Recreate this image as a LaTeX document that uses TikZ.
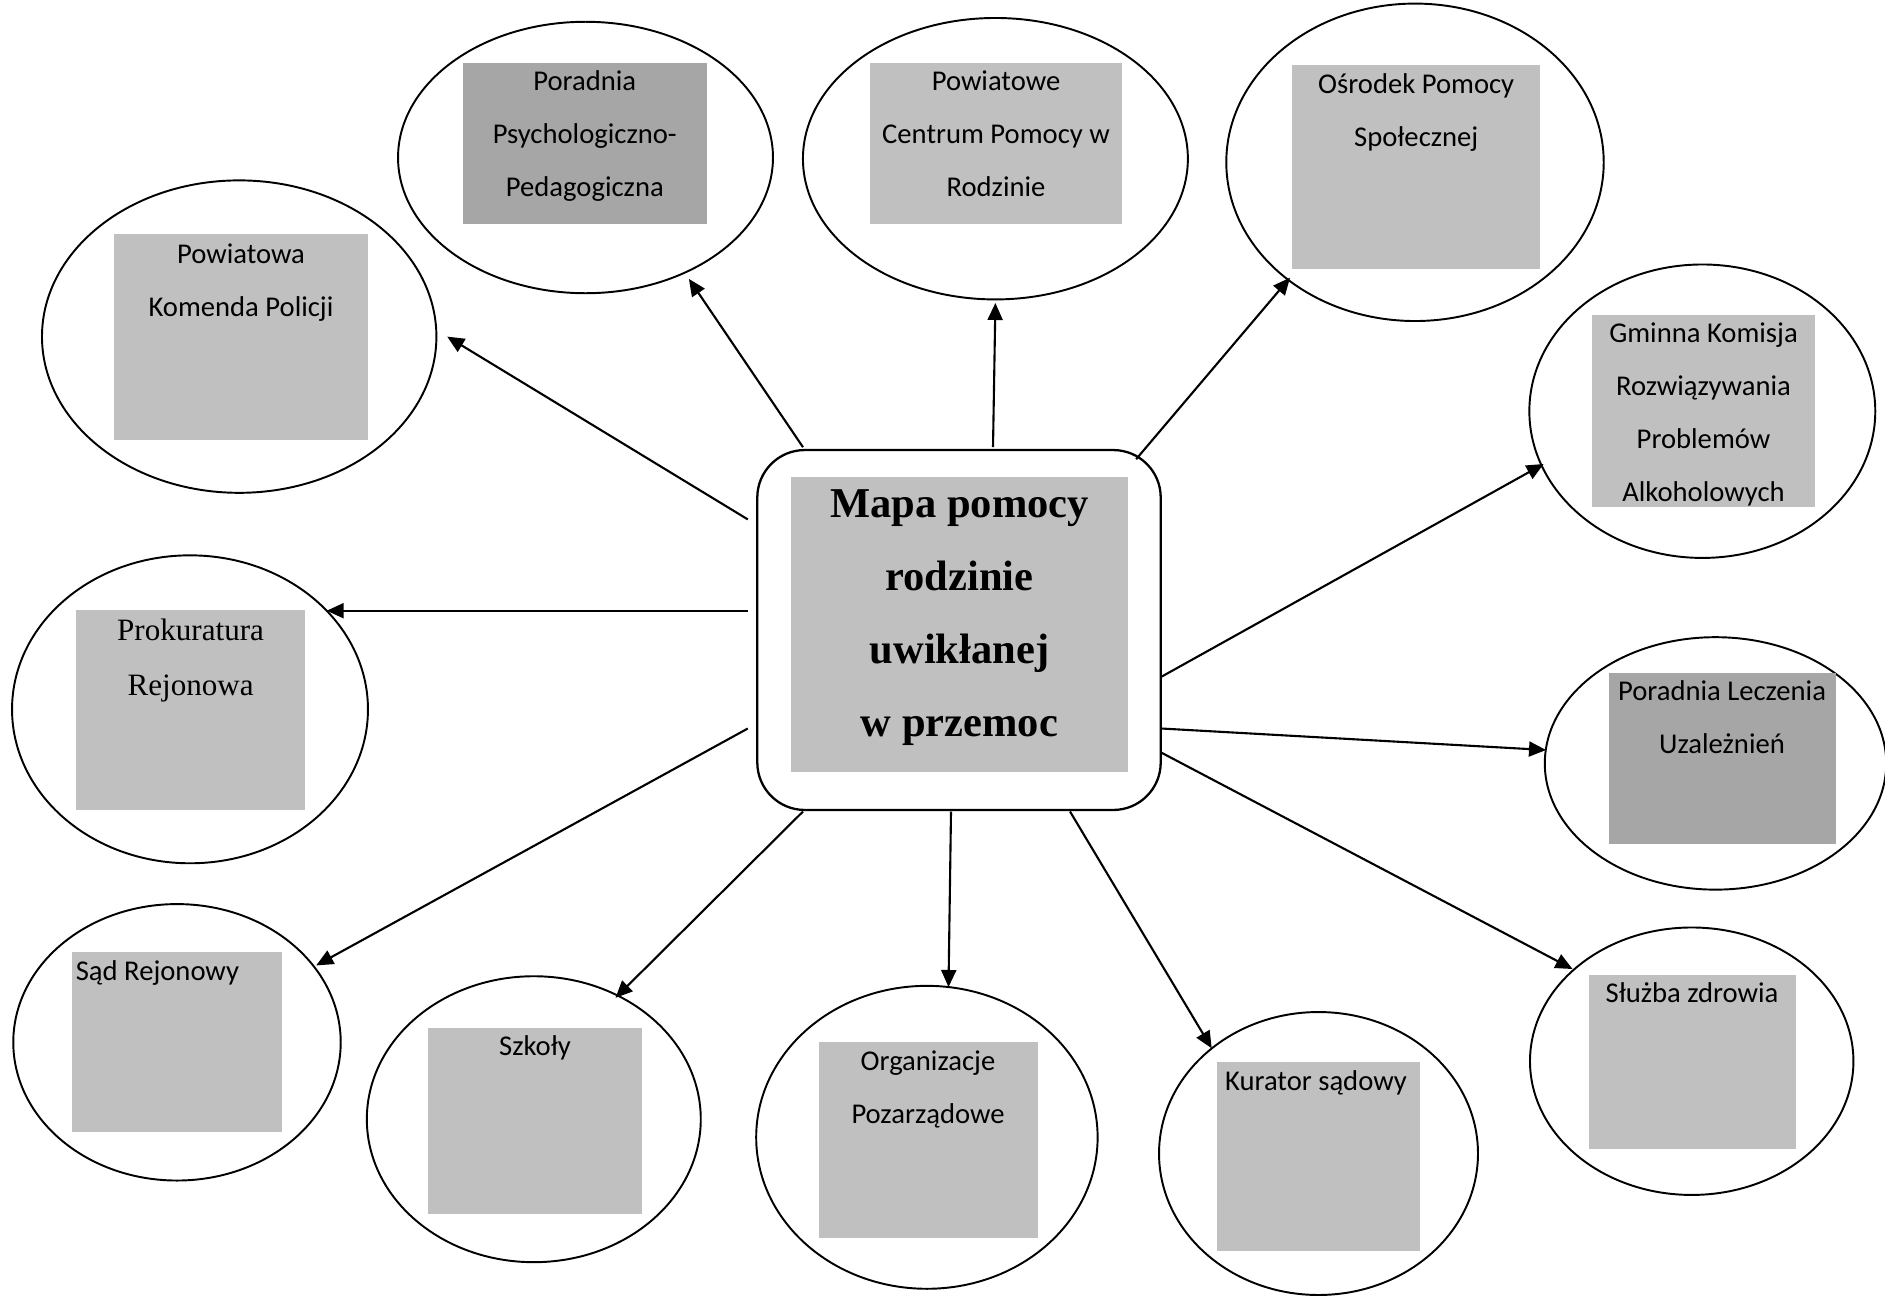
\documentclass[tikz,border=0pt]{standalone}
\usepackage{fontspec}
\setmainfont{Carlito}
\newfontfamily\tms{Liberation Serif}
\usetikzlibrary{shapes.geometric,arrows.meta}
\definecolor{lg}{RGB}{192,192,192}
\definecolor{dg}{RGB}{166,166,166}
\newcommand\fl{\rule{0pt}{20pt}}
\begin{document}
\begin{tikzpicture}[x=0.02cm,y=-0.02cm,
 oval/.style={draw, ellipse, line width=1.1pt, inner sep=0pt},
 lbl/.style={anchor=north, inner sep=0pt, align=center, yshift=20pt, font=\fontsize{16.3}{30.3}\selectfont},
 arr/.style={line width=1.2pt, -{Triangle[length=0.34cm,width=0.3cm]}}]
\useasboundingbox (0,0) rectangle (1885,1298);
% ellipses
\node[oval, minimum width=7.50cm, minimum height=5.43cm] (e1) at (585.5,157.5) {};
\node[oval, minimum width=7.70cm, minimum height=5.63cm] (e2) at (995.4,158.7) {};
\node[oval, minimum width=7.55cm, minimum height=6.35cm] (e3) at (1415,162.3) {};
\node[oval, minimum width=7.89cm, minimum height=6.25cm] (e4) at (239.2,336.6) {};
\node[oval, minimum width=6.92cm, minimum height=5.87cm] (e5) at (1702.3,411.2) {};
\node[oval, minimum width=7.12cm, minimum height=6.16cm] (e6) at (190,709.3) {};
\node[oval, minimum width=6.83cm, minimum height=5.05cm] (e7) at (1715.5,763.4) {};
\node[oval, minimum width=6.55cm, minimum height=5.53cm] (e8) at (177,1042.3) {};
\node[oval, minimum width=6.68cm, minimum height=5.72cm] (e9) at (533.8,1119.2) {};
\node[oval, minimum width=6.83cm, minimum height=6.06cm] (e10) at (926.9,1137.3) {};
\node[oval, minimum width=6.38cm, minimum height=5.66cm] (e11) at (1318.5,1153.5) {};
\node[oval, minimum width=6.47cm, minimum height=5.35cm] (e12) at (1691.7,1061.2) {};
% gray boxes and labels
\fill[dg] (462.8,62.5) rectangle (706.9,223.6);
\node[lbl] (l1) at (584.8,90) {\fl Poradnia\\Psychologiczno-\\Pedagogiczna};
\fill[lg] (870.4,62.5) rectangle (1121.7,223.6);
\node[lbl] (l2) at (996,90) {\fl Powiatowe\\Centrum Pomocy w\\Rodzinie};
\fill[lg] (1292.4,64.9) rectangle (1540,269.3);
\node[lbl] (l3) at (1416.2,93) {\fl Ośrodek Pomocy\\Społecznej};
\fill[lg] (114.2,234.4) rectangle (367.9,440);
\node[lbl] (l4) at (241,263) {\fl Powiatowa\\Komenda Policji};
\fill[lg] (1591.7,315) rectangle (1815.3,507.3);
\node[lbl] (l5) at (1703.5,341.7) {\fl Gminna Komisja\\Rozwiązywania\\Problemów\\Alkoholowych};
\fill[lg] (75.7,609.5) rectangle (305.4,810.3);
\node[lbl, font=\tms\fontsize{17.7}{31.2}\selectfont] (l6) at (190.6,640) {\fl Prokuratura\\Rejonowa};
\fill[dg] (1608.5,673.2) rectangle (1835.8,844);
\node[lbl] (l7) at (1722,700) {\fl Poradnia Leczenia\\Uzależnień};
\fill[lg] (72,951.7) rectangle (282,1132.3);
\node[lbl, anchor=north west] (l8) at (75.5,980) {\fl Sąd Rejonowy};
\fill[lg] (428,1027.9) rectangle (642,1214.2);
\node[lbl] (l9) at (535,1055.5) {\fl Szkoły};
\fill[lg] (818.7,1042.3) rectangle (1037.5,1238.3);
\node[lbl] (l10) at (928,1070) {\fl Organizacje\\Pozarządowe};
\fill[lg] (1216.7,1061.7) rectangle (1420,1250.7);
\node[lbl] (l11) at (1316,1090) {\fl Kurator sądowy};
\fill[lg] (1589,975) rectangle (1796,1149);
\node[lbl] (l12) at (1692,1002.6) {\fl Służba zdrowia};
% centre
\node[draw, rounded corners=0.95cm, line width=1.3pt, minimum width=8.07cm, minimum height=7.2cm] (c) at (959,630) {};
\fill[lg] (791,476.7) rectangle (1128.3,771.7);
\node[lbl, font=\tms\bfseries\fontsize{24.2}{41.6}\selectfont] (t) at (959.5,516.7) {\fl Mapa pomocy\\rodzinie\\uwikłanej\\w przemoc};
% arrow end points
\coordinate (s1) at (803,447.2);   \coordinate (t1) at (688.9,278.9);
\coordinate (s2) at (993,447.2);   \coordinate (t2) at (995.4,303);
\coordinate (s3) at (1136.1,459.2); \coordinate (t3) at (1290,277.7);
\coordinate (s4) at (747.8,519.4); \coordinate (t4) at (447.2,336.6);
\coordinate (s5) at (1161.3,676.8); \coordinate (t5) at (1543.6,464);
\coordinate (s6) at (747.8,610.7); \coordinate (t6) at (326.7,610.7);
\coordinate (s7) at (1161.3,728.5); \coordinate (t7) at (1546,750);
\coordinate (s8) at (747.8,728.5); \coordinate (t8) at (316.2,965.4);
\coordinate (s9) at (803,811.5);   \coordinate (t9) at (615.5,997.8);
\coordinate (s10) at (951,811.5);  \coordinate (t10) at (948.5,987);
\coordinate (s11) at (1070,811.5); \coordinate (t11) at (1211.7,1048.3);
\coordinate (s12) at (1161.3,752.6); \coordinate (t12) at (1572.5,969);
\foreach \i in {1,...,12} {\draw[arr] (s\i) -- (t\i);}
\end{tikzpicture}
\end{document}
